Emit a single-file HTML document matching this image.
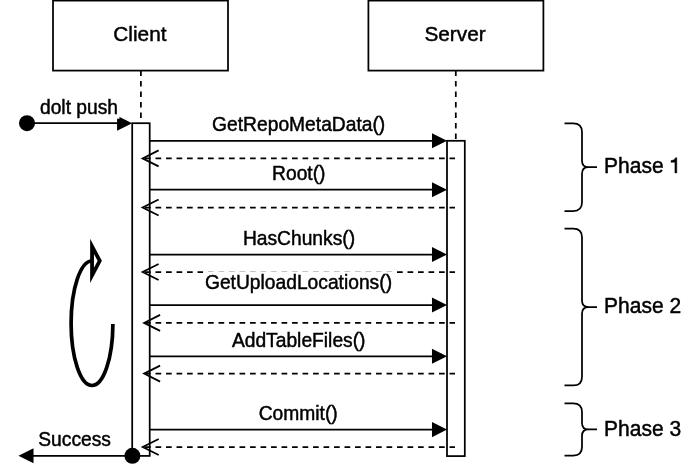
<!DOCTYPE html>
<html><head><meta charset="utf-8"><title>dolt push sequence</title>
<style>
html,body{margin:0;padding:0;background:#fff;}
body{width:697px;height:476px;overflow:hidden;}
svg{display:block;}
text{font-family:"Liberation Sans",sans-serif;fill:#000;stroke:#000;stroke-width:0.45px;}
svg{will-change:transform;}
</style></head><body>
<svg width="697" height="476" viewBox="0 0 697 476">
<rect width="697" height="476" fill="#fff"/>
<rect x="53" y="0.6" width="175" height="70" fill="#fff" stroke="#000" stroke-width="1.75"/>
<rect x="368.4" y="0.6" width="175" height="70" fill="#fff" stroke="#000" stroke-width="1.75"/>
<path d="M140.9,70.6 V123.2" stroke="#000" stroke-width="1.75" stroke-dasharray="5.7 4.8" stroke-dashoffset="0.22" fill="none"/>
<path d="M455.8,70.6 V140.8" stroke="#000" stroke-width="1.75" stroke-dasharray="5.7 4.8" stroke-dashoffset="0.22" fill="none"/>
<rect x="132.2" y="123.2" width="17.5" height="332.7" fill="#fff" stroke="#000" stroke-width="1.75"/>
<rect x="447" y="140.8" width="17.8" height="315.3" fill="#fff" stroke="#000" stroke-width="1.75"/>
<path d="M149.7,140.8 H434" stroke="#000" stroke-width="1.75" fill="none"/>
<path d="M445.1,140.8 L432.85,134.675 L432.85,146.925 Z" fill="#000" stroke="#000" stroke-width="1.75" stroke-miterlimit="10"/>
<path d="M149.7,189.7 H434" stroke="#000" stroke-width="1.75" fill="none"/>
<path d="M445.1,189.7 L432.85,183.575 L432.85,195.825 Z" fill="#000" stroke="#000" stroke-width="1.75" stroke-miterlimit="10"/>
<path d="M149.7,254.5 H434" stroke="#000" stroke-width="1.75" fill="none"/>
<path d="M445.1,254.5 L432.85,248.375 L432.85,260.625 Z" fill="#000" stroke="#000" stroke-width="1.75" stroke-miterlimit="10"/>
<path d="M149.7,305 H434" stroke="#000" stroke-width="1.75" fill="none"/>
<path d="M445.1,305 L432.85,298.875 L432.85,311.125 Z" fill="#000" stroke="#000" stroke-width="1.75" stroke-miterlimit="10"/>
<path d="M149.7,356.25 H434" stroke="#000" stroke-width="1.75" fill="none"/>
<path d="M445.1,356.25 L432.85,350.125 L432.85,362.375 Z" fill="#000" stroke="#000" stroke-width="1.75" stroke-miterlimit="10"/>
<path d="M149.7,429.6 H434" stroke="#000" stroke-width="1.75" fill="none"/>
<path d="M445.1,429.6 L432.85,423.475 L432.85,435.725 Z" fill="#000" stroke="#000" stroke-width="1.75" stroke-miterlimit="10"/>
<path d="M455,158.4 H144.1" stroke="#000" stroke-width="1.75" stroke-dasharray="5.7 4.8" stroke-dashoffset="0.22" fill="none"/>
<path d="M158.6,150.4 L142.6,158.4 L158.6,166.4" stroke="#000" stroke-width="1.75" fill="none" stroke-miterlimit="10"/>
<path d="M455,207.5 H144.1" stroke="#000" stroke-width="1.75" stroke-dasharray="5.7 4.8" stroke-dashoffset="0.22" fill="none"/>
<path d="M158.6,199.5 L142.6,207.5 L158.6,215.5" stroke="#000" stroke-width="1.75" fill="none" stroke-miterlimit="10"/>
<path d="M455,272 H144.1" stroke="#000" stroke-width="1.75" stroke-dasharray="5.7 4.8" stroke-dashoffset="0.22" fill="none"/>
<path d="M158.6,264 L142.6,272 L158.6,280" stroke="#000" stroke-width="1.75" fill="none" stroke-miterlimit="10"/>
<path d="M455,322.9 H145.6" stroke="#000" stroke-width="1.75" stroke-dasharray="5.7 4.8" stroke-dashoffset="0.22" fill="none"/>
<path d="M160.1,314.9 L144.1,322.9 L160.1,330.9" stroke="#000" stroke-width="1.75" fill="none" stroke-miterlimit="10"/>
<path d="M455,373.6 H145.6" stroke="#000" stroke-width="1.75" stroke-dasharray="5.7 4.8" stroke-dashoffset="0.22" fill="none"/>
<path d="M160.1,365.6 L144.1,373.6 L160.1,381.6" stroke="#000" stroke-width="1.75" fill="none" stroke-miterlimit="10"/>
<path d="M455,447 H144.2" stroke="#000" stroke-width="1.75" stroke-dasharray="5.7 4.8" stroke-dashoffset="0.22" fill="none"/>
<path d="M158.7,439 L142.7,447 L158.7,455" stroke="#000" stroke-width="1.75" fill="none" stroke-miterlimit="10"/>
<path d="M27,123.2 H119" stroke="#000" stroke-width="1.75" fill="none"/>
<circle cx="27" cy="123.2" r="8" fill="#000"/>
<path d="M130.2,123.2 L117.94999999999999,117.075 L117.94999999999999,129.325 Z" fill="#000" stroke="#000" stroke-width="1.75" stroke-miterlimit="10"/>
<rect x="38.5" y="96" width="81" height="22.7" fill="#fff"/>
<path d="M132.5,455.8 H33" stroke="#000" stroke-width="1.75" fill="none"/>
<circle cx="132.4" cy="455.8" r="8" fill="#000"/>
<path d="M20.4,455.8 L32.65,449.675 L32.65,461.925 Z" fill="#000" stroke="#000" stroke-width="1.75" stroke-miterlimit="10"/>
<path d="M112.9,323.9 A20.9,62.25 0 1 1 91.9,261" stroke="#000" stroke-width="3.7" fill="none"/>
<path d="M92.05,246.4 L99.75,260.85 L92.05,275.3 Z" stroke="#000" stroke-width="3.8" fill="#fff" stroke-miterlimit="10"/>
<path d="M564.5,123.4 H573.25 Q582,123.4 582,132.15 V160.7 Q582,167.2 588.5,167.2 H597 M588.5,167.2 Q582,167.2 582,173.7 V202.25 Q582,211 573.25,211 H564.5" stroke="#000" stroke-width="1.75" fill="none"/>
<path d="M564.5,228.6 H573.25 Q582,228.6 582,237.35 V300.5 Q582,307.0 588.5,307.0 H597 M588.5,307.0 Q582,307.0 582,313.5 V376.65 Q582,385.4 573.25,385.4 H564.5" stroke="#000" stroke-width="1.75" fill="none"/>
<path d="M564.5,403.4 H573.25 Q582,403.4 582,412.15 V422.95 Q582,429.45 588.5,429.45 H597 M588.5,429.45 Q582,429.45 582,435.95 V446.75 Q582,455.5 573.25,455.5 H564.5" stroke="#000" stroke-width="1.75" fill="none"/>
<text transform="translate(139.9,41.2) scale(1,1.01)" font-size="20.8" text-anchor="middle">Client</text>
<text transform="translate(455.0,41.3) scale(1,1.01)" font-size="20.8" text-anchor="middle">Server</text>
<text transform="translate(79,114.3) scale(1,1.01)" font-size="19.25" text-anchor="middle">dolt push</text>
<text transform="translate(298.7,130.5) scale(1,1.01)" font-size="19.25" text-anchor="middle">GetRepoMetaData()</text>
<text transform="translate(298.8,180) scale(1,1.01)" font-size="19.25" text-anchor="middle">Root()</text>
<text transform="translate(299,245) scale(1,1.01)" font-size="19.25" text-anchor="middle">HasChunks()</text>
<rect x="203.2" y="271.3" width="191" height="23" fill="#fff"/>
<text transform="translate(298.5,288.75) scale(1,1.01)" font-size="19.25" text-anchor="middle">GetUploadLocations()</text>
<text transform="translate(298.7,346.75) scale(1,1.01)" font-size="19.25" text-anchor="middle">AddTableFiles()</text>
<text transform="translate(298.2,420) scale(1,1.01)" font-size="19.25" text-anchor="middle">Commit()</text>
<text transform="translate(74.6,446.25) scale(1,1.01)" font-size="19.25" text-anchor="middle">Success</text>
<text transform="translate(604.1,173) scale(1,1.01)" font-size="21" text-anchor="start">Phase</text>
<path d="M674.9,172.9 V162.3 H671 V160.5 C673.5,160.3 675.1,159.3 675.5,157.7 H676.8 V172.9 Z" fill="#000" stroke="#000" stroke-width="0.45"/>
<text transform="translate(604.1,312.7) scale(1,1.01)" font-size="21" text-anchor="start">Phase 2</text>
<text transform="translate(604.1,435.6) scale(1,1.01)" font-size="21" text-anchor="start">Phase 3</text>
</svg>
</body></html>
